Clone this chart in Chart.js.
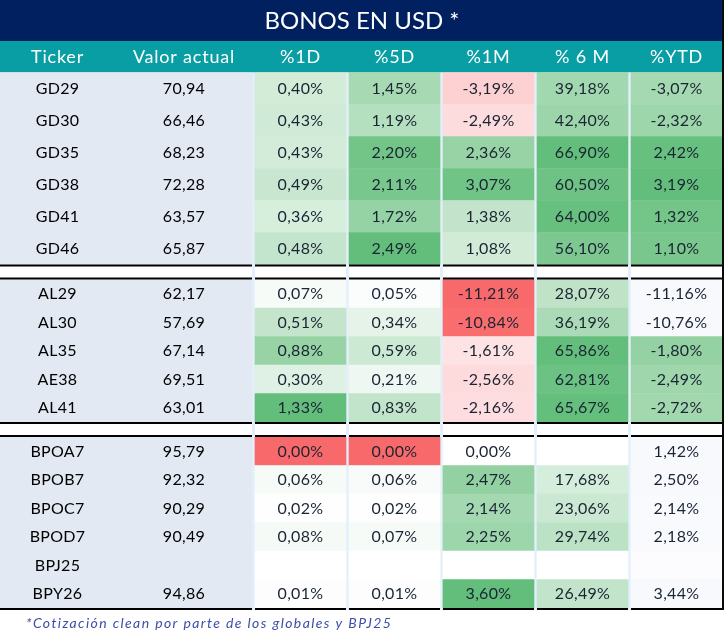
<!DOCTYPE html>
<html>
<head>
<meta charset="utf-8">
<script src="https://cdn.jsdelivr.net/npm/chart.js@4.4.1/dist/chart.umd.min.js"></script>
<style>
  html, body { margin: 0; padding: 0; background: #ffffff; }
  canvas { display: block; }
</style>
</head>
<body>
<canvas id="tabla" width="724" height="639"></canvas>
<script>
// datos
const titulo = 'BONOS EN USD *';
const encabezados = ['Ticker', 'Valor actual', '%1D', '%5D', '%1M', '% 6 M', '%YTD'];
const tickers = ['GD29','GD30','GD35','GD38','GD41','GD46',
                 'AL29','AL30','AL35','AE38','AL41',
                 'BPOA7','BPOB7','BPOC7','BPOD7','BPJ25','BPY26'];
const grupos = [6, 5, 6];
const valorActual = [70.94, 66.46, 68.23, 72.28, 63.57, 65.87, 62.17, 57.69, 67.14, 69.51, 63.01, 95.79, 92.32, 90.29, 90.49, null, 94.86];
const var1D  = [0.40, 0.43, 0.43, 0.49, 0.36, 0.48, 0.07, 0.51, 0.88, 0.30, 1.33, 0.00, 0.06, 0.02, 0.08, null, 0.01];
const var5D  = [1.45, 1.19, 2.20, 2.11, 1.72, 2.49, 0.05, 0.34, 0.59, 0.21, 0.83, 0.00, 0.06, 0.02, 0.07, null, 0.01];
const var1M  = [-3.19, -2.49, 2.36, 3.07, 1.38, 1.08, -11.21, -10.84, -1.61, -2.56, -2.16, 0.00, 2.47, 2.14, 2.25, null, 3.60];
const var6M  = [39.18, 42.40, 66.90, 60.50, 64.00, 56.10, 28.07, 36.19, 65.86, 62.81, 65.67, null, 17.68, 23.06, 29.74, null, 26.49];
const varYTD = [-3.07, -2.32, 2.42, 3.19, 1.32, 1.10, -11.16, -10.76, -1.80, -2.49, -2.72, 1.42, 2.50, 2.14, 2.18, null, 3.44];
const nota = '*Cotización clean por parte de los globales y BPJ25';

// colores de celda (formato condicional de la planilla original)
const GRIS = '#e2e9f3';
const fondos = [
  ['#d2ecd8','#cfead6','#d3ecd9','#c9e7d0','#d6eedc','#c4e5cd','#f6fbf8','#c4e5cc','#97d3a5','#dff1e4','#63be7b','#f8696b','#f7fbf8','#fdfefd','#f5faf6','#ffffff','#fcfdfc'],
  ['#a7dab3','#b5e0c0','#72c487','#78c78c','#95d2a4','#63be7b','#fbfdfc','#e5f3e9','#cce9d3','#eef7f1','#c2e4ca','#f8696b','#f8fbf9','#fdfefd','#f6fbf8','#ffffff','#fcfdfc'],
  ['#fdd0d1','#fddcdd','#98d3a6','#70c486','#c3e4cb','#d1ebd7','#f8696b','#f96d6f','#fde3e4','#fddadb','#fddddf','#ffffff','#93d1a2','#a3d8b0','#9dd6aa','#ffffff','#63be7b'],
  ['#a2d8af','#9cd5a9','#63be7b','#6ec384','#68c07f','#7cc890','#c0e3c8','#abdbb6','#63be7b','#6bc282','#64bf7c','#ffffff','#d5eddb','#cbe8d2','#bce2c5','#ffffff','#c2e4ca'],
  ['#a5d9b1','#9ed6ab','#67c07e','#63be7b','#73c588','#79c78d','#f8f9fd','#f8f9fc','#94d2a3','#9fd6ab','#a3d8af','#f8f9fd','#f8f9fd','#f9fafd','#f9fafd','#fcfcff','#f7f9fc']
];

// layout (px)
const ANCHOS = [115, 137, 91, 91, 91, 91, 91];
const SEPARA = [0, 0, 3, 3, 3, 3, 3];
const ALTO_TITULO = 41, FIN_CABECERA = 72.5;
const ALTO_FILA = [32, 28.5, 28.5];
const HUECO = 15, LINEA = 2;
const FUENTE = 'Lato, "Noto Sans", sans-serif';

const columnas = [];
let xc = 0;
ANCHOS.forEach((w, i) => {
  xc += SEPARA[i];
  columnas.push({ x0: xc, x1: xc + w });
  xc += w;
});

const filas = [];
const cortes = [];
let yc = FIN_CABECERA;
grupos.forEach((n, g) => {
  const ini = yc;
  for (let r = 0; r < n; r++) {
    filas.push({ top: yc, bottom: yc + ALTO_FILA[g] });
    yc += ALTO_FILA[g];
  }
  cortes.push({ top: ini, bottom: yc, primero: g === 0 });
  yc += HUECO;
});

const fmt = (v, pct) => v === null ? '' : v.toFixed(2).replace('.', ',') + (pct ? '%' : '');

const textos = [
  tickers,
  valorActual.map(v => fmt(v, false)),
  var1D.map(v => fmt(v, true)),
  var5D.map(v => fmt(v, true)),
  var1M.map(v => fmt(v, true)),
  var6M.map(v => fmt(v, true)),
  varYTD.map(v => fmt(v, true))
];

const datasets = columnas.map((c, i) => ({
  label: encabezados[i],
  data: filas.map(f => ({ x: (c.x0 + c.x1) / 2, y: [f.top, f.bottom] })),
  barThickness: c.x1 - c.x0,
  backgroundColor: i < 2 ? GRIS : fondos[i - 2],
  borderWidth: 0
}));

const TICKER_X = 57.5, VALOR_X = 184;

const decorado = {
  id: 'decorado',
  beforeDatasetsDraw(chart) {
    const { ctx, scales: { x, y } } = chart;
    const x0 = x.getPixelForValue(0), x1 = x.getPixelForValue(724);
    ctx.save();
    ctx.fillStyle = '#002060';
    ctx.fillRect(x0, y.getPixelForValue(0), x1 - x0, y.getPixelForValue(ALTO_TITULO) - y.getPixelForValue(0));
    ctx.fillStyle = '#089ea3';
    ctx.fillRect(x0, y.getPixelForValue(ALTO_TITULO), x1 - x0, y.getPixelForValue(FIN_CABECERA) - y.getPixelForValue(ALTO_TITULO));
    // separadores entre columnas
    ctx.fillStyle = '#e3effb';
    const fin = cortes[cortes.length - 1].bottom + LINEA;
    columnas.forEach((c, i) => {
      if (SEPARA[i] === 0) return;
      const a = x.getPixelForValue(c.x0 - SEPARA[i]);
      const b = x.getPixelForValue(c.x0);
      ctx.fillRect(a, y.getPixelForValue(FIN_CABECERA), b - a, y.getPixelForValue(fin) - y.getPixelForValue(FIN_CABECERA));
    });
    ctx.restore();
  },
  afterDatasetsDraw(chart) {
    const { ctx, scales: { x, y } } = chart;
    ctx.save();
    // líneas negras de cada grupo
    ctx.fillStyle = '#000000';
    cortes.forEach(g => {
      columnas.forEach(c => {
        const a = x.getPixelForValue(c.x0);
        const b = x.getPixelForValue(c.x1);
        if (!g.primero) ctx.fillRect(a, y.getPixelForValue(g.top - LINEA), b - a, LINEA);
        ctx.fillRect(a, y.getPixelForValue(g.bottom), b - a, LINEA);
      });
    });
    // borde derecho
    const ult = columnas[columnas.length - 1];
    const fin = cortes[cortes.length - 1].bottom + LINEA;
    ctx.fillStyle = '#0a0a0a';
    ctx.fillRect(x.getPixelForValue(ult.x1), y.getPixelForValue(0), x.getPixelForValue(724) - x.getPixelForValue(ult.x1), y.getPixelForValue(fin) - y.getPixelForValue(0));

    ctx.textAlign = 'center';
    ctx.textBaseline = 'middle';
    // título
    ctx.fillStyle = '#ffffff';
    ctx.font = '24px ' + FUENTE;
    ctx.letterSpacing = '0px';
    ctx.fillText(titulo, x.getPixelForValue(362), y.getPixelForValue(ALTO_TITULO / 2 + 1));
    // cabecera
    ctx.font = '18px ' + FUENTE;
    ctx.letterSpacing = '0.8px';
    columnas.forEach((c, i) => {
      const cx = i === 0 ? TICKER_X : (i === 1 ? VALOR_X : (c.x0 + c.x1) / 2);
      ctx.fillText(encabezados[i], x.getPixelForValue(cx), y.getPixelForValue((ALTO_TITULO + FIN_CABECERA) / 2 + 0.5));
    });
    // celdas
    ctx.font = '16px ' + FUENTE;
    ctx.letterSpacing = '0.3px';
    chart.data.datasets.forEach((ds, i) => {
      const meta = chart.getDatasetMeta(i);
      meta.data.forEach((el, r) => {
        const t = textos[i][r];
        if (!t) return;
        ctx.fillStyle = i < 2 ? '#000000' : '#1b2434';
        const cx = i === 0 ? x.getPixelForValue(TICKER_X) : (i === 1 ? x.getPixelForValue(VALOR_X) : el.x);
        ctx.fillText(t, cx, (el.y + el.base) / 2 + 0.5);
      });
    });
    // nota
    ctx.textAlign = 'left';
    ctx.font = 'italic 14px ' + FUENTE;
    ctx.letterSpacing = '1.4px';
    ctx.fillStyle = '#3d4fa8';
    ctx.fillText(nota, x.getPixelForValue(26), y.getPixelForValue(623));
    ctx.restore();
  }
};

new Chart(document.getElementById('tabla'), {
  type: 'bar',
  data: { datasets: datasets },
  options: {
    responsive: false,
    animation: false,
    layout: { padding: 0 },
    plugins: { legend: { display: false }, tooltip: { enabled: false }, title: { display: false } },
    scales: {
      x: { type: 'linear', min: 0, max: 724, offset: false, stacked: true, display: false },
      y: { type: 'linear', min: 0, max: 639, reverse: true, stacked: false, display: false }
    }
  },
  plugins: [decorado]
});
</script>
</body>
</html>
